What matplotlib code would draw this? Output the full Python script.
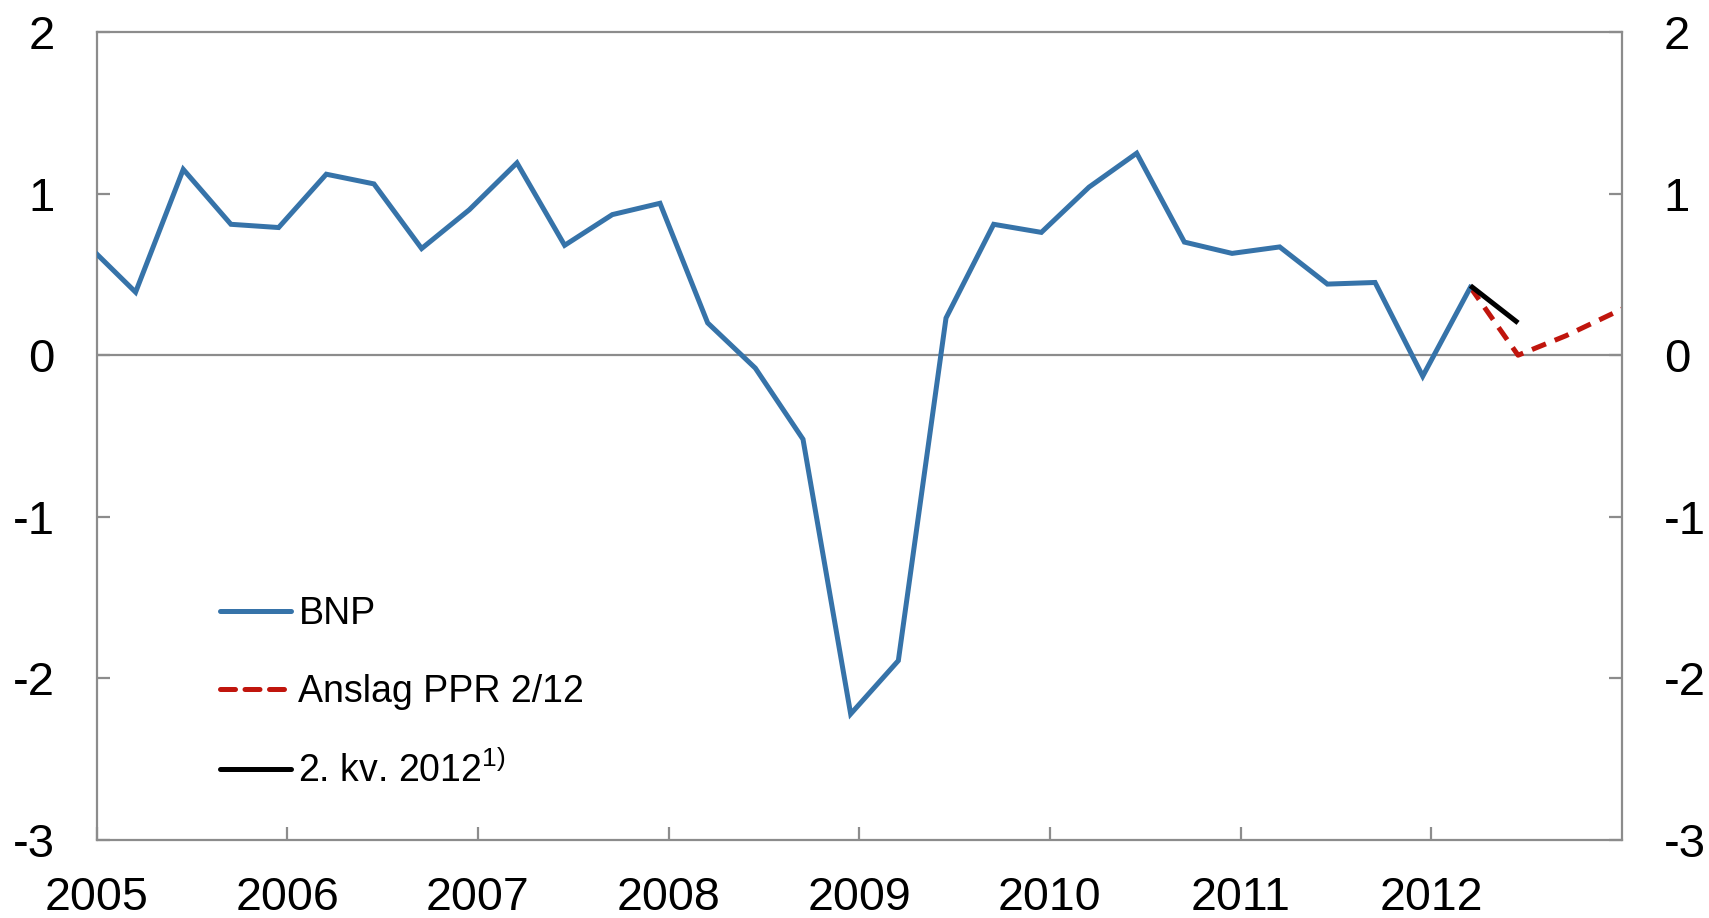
import matplotlib
matplotlib.use("Agg")
import matplotlib.pyplot as plt
from matplotlib.lines import Line2D

plt.rcParams['font.family'] = ['Liberation Sans', 'DejaVu Sans']
plt.rcParams['mathtext.fontset'] = 'custom'
plt.rcParams['mathtext.rm'] = 'Liberation Sans'

# ---------------- data ----------------
bnp_quarters = ['2004Q4',
                '2005Q1', '2005Q2', '2005Q3', '2005Q4',
                '2006Q1', '2006Q2', '2006Q3', '2006Q4',
                '2007Q1', '2007Q2', '2007Q3', '2007Q4',
                '2008Q1', '2008Q2', '2008Q3', '2008Q4',
                '2009Q1', '2009Q2', '2009Q3', '2009Q4',
                '2010Q1', '2010Q2', '2010Q3', '2010Q4',
                '2011Q1', '2011Q2', '2011Q3', '2011Q4',
                '2012Q1']
bnp_values = [0.68,
              0.39, 1.15, 0.81, 0.79,
              1.12, 1.06, 0.66, 0.90,
              1.19, 0.68, 0.87, 0.94,
              0.20, -0.08, -0.52, -2.22,
              -1.89, 0.23, 0.81, 0.76,
              1.04, 1.25, 0.70, 0.63,
              0.67, 0.44, 0.45, -0.13,
              0.42]

ppr_quarters = ['2012Q1', '2012Q2', '2012Q3', '2012Q4', '2013Q1']
ppr_values = [0.42, 0.00, 0.12, 0.26, 0.40]

q2_quarters = ['2012Q1', '2012Q2']
q2_values = [0.43, 0.20]

year_ticks = list(range(2005, 2013))
y_ticks = [-3, -2, -1, 0, 1, 2]

labels = ['BNP', 'Anslag PPR 2/12', '2. kv. 2012$^{\\mathrm{1)}}$']


def qpos(q):
    year = int(q[:4])
    n = int(q[-1])
    return year + 0.205 + 0.25 * (n - 1)


blue = '#3673A9'
red = '#C0150D'
grey = '#8C8C8C'

fig = plt.figure(figsize=(17.09, 9.18), dpi=100)
ax = fig.add_axes([96.5 / 1709, 78 / 918, (1622 - 96.5) / 1709, (840 - 32) / 918])

ax.axhline(0, color=grey, lw=1.6, zorder=1)

lw = 3.6
ax.plot([qpos(q) for q in bnp_quarters], bnp_values, color=blue, lw=lw,
        solid_joinstyle='miter', zorder=3)
ax.plot([qpos(q) for q in ppr_quarters], ppr_values, color=red, lw=lw,
        dashes=(3.0, 1.9), dash_capstyle='butt', zorder=2)
ax.plot([qpos(q) for q in q2_quarters], q2_values, color='black', lw=lw,
        solid_capstyle='butt', zorder=4)

ax.set_xlim(2005, 2013)
ax.set_ylim(-3, 2)
ax.set_xticks(year_ticks)
ax.set_xticklabels([str(y) for y in year_ticks])
ax.set_yticks(y_ticks)
ax.set_yticklabels([str(v) for v in y_ticks])

for s in ax.spines.values():
    s.set_color(grey)
    s.set_linewidth(1.6)

ax.tick_params(axis='y', which='both', direction='in', length=9.5, width=1.6,
               color=grey, labelsize=34, pad=30, left=True, right=True,
               labelleft=True, labelright=True)
ax.tick_params(axis='x', direction='in', length=9.5, width=1.6, color=grey,
               labelsize=33.5, pad=26, bottom=True, top=False)

handles = [Line2D([], [], color=blue, lw=lw, solid_capstyle='round'),
           Line2D([], [], color=red, lw=lw, dashes=(3.0, 1.9), dash_capstyle='round'),
           Line2D([], [], color='black', lw=lw, solid_capstyle='round')]
leg = ax.legend(handles, labels, loc='upper left',
                bbox_to_anchor=(220 / 1709, (918 - 596) / 918),
                bbox_transform=fig.transFigure, frameon=False,
                fontsize=27, handlelength=1.89, handletextpad=0.2,
                labelspacing=1.12, borderpad=0, borderaxespad=0)

fig.savefig('out.png', dpi=100)
